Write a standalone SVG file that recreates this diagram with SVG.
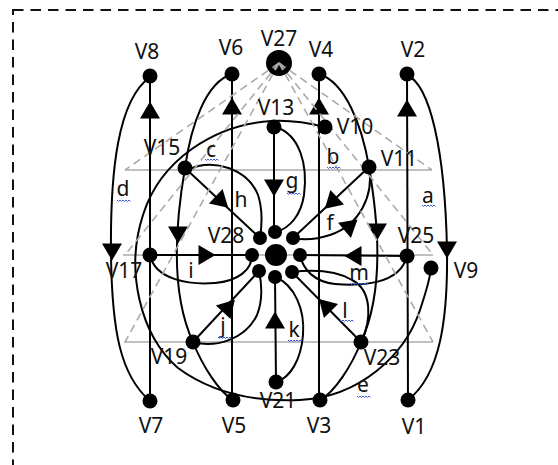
<svg xmlns="http://www.w3.org/2000/svg" width="558" height="465" viewBox="0 0 558 465">
<defs>
<style>
.ln{fill:none;stroke:#000;stroke-width:2}
.gr{fill:none;stroke:#ababab;stroke-width:1.6}
.gd{fill:none;stroke:#ababab;stroke-width:1.6;stroke-dasharray:8 5}
.nd{fill:#000}
.t{font-family:"Noto Sans","Open Sans",sans-serif;font-size:21px;fill:#111;text-anchor:middle}
.wv{fill:none;stroke:#3a5bd9;stroke-width:1}
</style>
<path id="ar" d="M8.5,0 L-8.5,-10 L-8.5,10 Z" fill="#000"/>
<path id="wv" class="wv" d="M0,0 l1.5,1.5 l1.5,-1.5 l1.5,1.5 l1.5,-1.5 l1.5,1.5 l1.5,-1.5 l1.5,1.5 l1.5,-1.5 l1.5,1.5"/>
<path id="wvm" class="wv" d="M0,0 l1.5,1.5 l1.5,-1.5 l1.5,1.5 l1.5,-1.5 l1.5,1.5 l1.5,-1.5 l1.5,1.5 l1.5,-1.5 l1.5,1.5 l1.5,-1.5 l1.5,1.5 l1.5,-1.5"/>
</defs>
<rect width="558" height="465" fill="#fff"/>
<rect x="13" y="10" width="620" height="520" fill="none" stroke="#111" stroke-width="2" stroke-dasharray="10.5 7"/>

<g id="plane">
<line class="gr" x1="125" y1="170" x2="432" y2="170"/>
<line class="gr" x1="123" y1="255" x2="433" y2="255"/>
<line class="gr" x1="124" y1="342" x2="433" y2="342"/>
</g>

<g id="connectors">
<line class="ln" x1="150" y1="76" x2="150" y2="401"/>
<line class="ln" x1="232" y1="74" x2="232" y2="400"/>
<line class="ln" x1="319" y1="74" x2="319" y2="400"/>
<line class="ln" x1="407" y1="74" x2="408" y2="400"/>
<line class="ln" x1="274" y1="127" x2="274" y2="232"/>
<line class="ln" x1="275" y1="277" x2="276" y2="382"/>
<line class="ln" x1="150" y1="255" x2="252" y2="255"/>
<line class="ln" x1="300" y1="255" x2="407" y2="256"/>
<line class="ln" x1="185" y1="168" x2="260" y2="238"/>
<line class="ln" x1="369" y1="167" x2="293" y2="238"/>
<line class="ln" x1="193" y1="342" x2="259" y2="271"/>
<line class="ln" x1="361" y1="342" x2="292" y2="272"/>
<path class="ln" d="M150,77 C118,100 110,170 111,255 C112,330 120,375 150,401"/>
<path class="ln" d="M407,75 C430,85 445,150 447,250 C448,320 440,375 408,400"/>
<path class="ln" d="M232,74 C206,82 191,125 185,168 C176,220 169,290 193,342 C202,365 219,392 233,400"/>
<path class="ln" d="M319,74 C345,82 362,125 369,167 C378,220 385,290 361,342 C352,365 335,392 320,400"/>
<path class="ln" d="M325,127 C305,122 290,120 272,121 C215,124 160,160 143,215 C125,270 140,335 178,368 C212,393 255,402 300,400 C360,397 405,355 420,310 C425,295 430,280 431,268"/>
<path class="ln" d="M276,127 C300,135 308,165 304,195 C301,215 290,228 276,232"/>
<path class="ln" d="M187,170 C215,157 248,170 258,195 C263,210 262,225 260,238"/>
<path class="ln" d="M369,167 C374,195 360,225 330,235 C315,240 303,240 293,238"/>
<path class="ln" d="M150,255 C155,280 190,285 215,283 C238,281 252,270 252,255"/>
<path class="ln" d="M193,342 C215,348 245,340 257,315 C263,300 262,285 259,271"/>
<path class="ln" d="M275,277 C295,285 305,310 303,335 C301,360 290,378 276,382"/>
<path class="ln" d="M361,342 C372,320 372,290 352,280 C335,270 310,270 292,272"/>
<path class="ln" d="M407,256 C400,285 360,286 335,284 C315,282 303,270 300,255"/>
<use href="#ar" transform="translate(150,110) rotate(-90)"/>
<use href="#ar" transform="translate(232,106) rotate(-90)"/>
<use href="#ar" transform="translate(319,106) rotate(-90)"/>
<use href="#ar" transform="translate(407,108) rotate(-90)"/>
<use href="#ar" transform="translate(274,188) rotate(90)"/>
<use href="#ar" transform="translate(275,320) rotate(-90)"/>
<use href="#ar" transform="translate(207,255)"/>
<use href="#ar" transform="translate(353,256) rotate(180)"/>
<use href="#ar" transform="translate(222,202) rotate(43)"/>
<use href="#ar" transform="translate(331,203) rotate(137)"/>
<use href="#ar" transform="translate(229,306) rotate(-47)"/>
<use href="#ar" transform="translate(325,305) rotate(-135)"/>
<use href="#ar" transform="translate(178,235) rotate(90)"/>
<use href="#ar" transform="translate(377,232) rotate(90)"/>
<use href="#ar" transform="translate(112,252) rotate(90)"/>
<use href="#ar" transform="translate(447,250) rotate(90)"/>
<use href="#ar" transform="translate(351,225) rotate(-40)"/>
</g>

<g id="V27"><circle class="nd" cx="279" cy="63" r="13"/><text class="t" x="279" y="46">V27</text></g>
<g id="pyramid">
<line class="gd" x1="279" y1="63" x2="125" y2="170"/>
<line class="gd" x1="279" y1="63" x2="125" y2="255"/>
<line class="gd" x1="279" y1="63" x2="125" y2="342"/>
<line class="gd" x1="279" y1="63" x2="432" y2="170"/>
<line class="gd" x1="279" y1="63" x2="433" y2="255"/>
<line class="gd" x1="279" y1="63" x2="433" y2="342"/>
</g>

<g id="V8"><circle class="nd" cx="150" cy="76" r="7.5"/><text class="t" x="147" y="59">V8</text></g>
<g id="V6"><circle class="nd" cx="232" cy="74" r="7.5"/><text class="t" x="231" y="55">V6</text></g>
<g id="V4"><circle class="nd" cx="319" cy="74" r="7.5"/><text class="t" x="321" y="57">V4</text></g>
<g id="V2"><circle class="nd" cx="407" cy="74" r="7.5"/><text class="t" x="413" y="57">V2</text></g>
<g id="V13"><circle class="nd" cx="274" cy="127" r="7.5"/><text class="t" x="276" y="115">V13</text></g>
<g id="V10"><circle class="nd" cx="325" cy="127" r="7.5"/><text class="t" x="355" y="134">V10</text></g>
<g id="V15"><circle class="nd" cx="185" cy="168" r="7.5"/><text class="t" x="162" y="155">V15</text></g>
<g id="V11"><circle class="nd" cx="369" cy="167" r="7.5"/><text class="t" x="399" y="166">V11</text></g>
<g id="V17"><circle class="nd" cx="150" cy="255" r="7.5"/><text class="t" x="124" y="278">V17</text></g>
<g id="V25"><circle class="nd" cx="407" cy="256" r="7.5"/><text class="t" x="416" y="243">V25</text></g>
<g id="V9"><circle class="nd" cx="431" cy="268" r="7.5"/><text class="t" x="466" y="278">V9</text></g>
<g id="V28">
<circle class="nd" cx="276" cy="255" r="11"/>
<circle class="nd" cx="260" cy="238" r="7"/>
<circle class="nd" cx="275" cy="232" r="7"/>
<circle class="nd" cx="293" cy="238" r="7"/>
<circle class="nd" cx="252" cy="255" r="7"/>
<circle class="nd" cx="300" cy="255" r="7"/>
<circle class="nd" cx="259" cy="271" r="7"/>
<circle class="nd" cx="275" cy="277" r="7"/>
<circle class="nd" cx="292" cy="272" r="7"/>
<text class="t" x="226" y="243">V28</text>
</g>
<g id="V19"><circle class="nd" cx="193" cy="342" r="7.5"/><text class="t" x="169" y="364">V19</text></g>
<g id="V23"><circle class="nd" cx="361" cy="342" r="7.5"/><text class="t" x="382" y="365">V23</text></g>
<g id="V21"><circle class="nd" cx="276" cy="382" r="7.5"/><text class="t" x="278" y="408">V21</text></g>
<g id="V7"><circle class="nd" cx="150" cy="401" r="7.5"/><text class="t" x="151" y="433">V7</text></g>
<g id="V5"><circle class="nd" cx="233" cy="400" r="7.5"/><text class="t" x="234" y="433">V5</text></g>
<g id="V3"><circle class="nd" cx="320" cy="400" r="7.5"/><text class="t" x="319" y="433">V3</text></g>
<g id="V1"><circle class="nd" cx="408" cy="400" r="7.5"/><text class="t" x="414" y="434">V1</text></g>

<g id="edge-labels">
<text class="t" x="428" y="203">a</text><use href="#wv" x="422" y="205"/>
<text class="t" x="333" y="164">b</text><use href="#wv" x="327" y="167"/>
<text class="t" x="211" y="157">c</text><use href="#wv" x="205" y="159"/>
<text class="t" x="123" y="196">d</text><use href="#wv" x="117" y="200"/>
<text class="t" x="363" y="392">e</text><use href="#wv" x="357" y="396"/>
<text class="t" x="330" y="230">f</text>
<text class="t" x="292" y="188">g</text><use href="#wv" x="287" y="193"/>
<text class="t" x="241" y="207">h</text>
<text class="t" x="191" y="278">i</text>
<text class="t" x="223" y="333">j</text><use href="#wv" x="218" y="337"/>
<text class="t" x="294" y="337">k</text><use href="#wv" x="288" y="340"/>
<text class="t" x="345" y="318">l</text><use href="#wv" x="340" y="320"/>
<text class="t" x="359" y="280">m</text><use href="#wvm" x="350" y="283"/>
</g>
</svg>
